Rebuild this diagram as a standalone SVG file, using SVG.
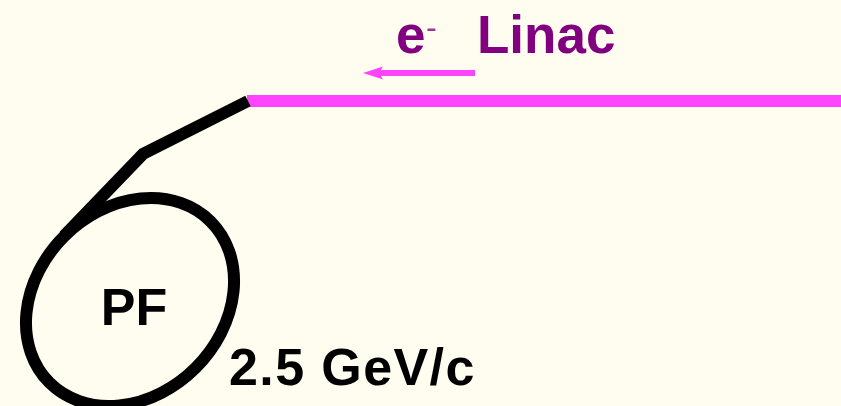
<svg xmlns="http://www.w3.org/2000/svg" width="841" height="406" viewBox="0 0 841 406">
<style>
.lbl{font-family:"Liberation Sans",Arial,sans-serif;font-weight:bold}
.beam{stroke:#FF44FF;fill:none}
.ring{stroke:#000;fill:none;stroke-width:12}
</style>
<rect width="841" height="406" fill="#FFFDEF"/>
<g id="connectors">
<line class="beam" x1="247" y1="101" x2="841" y2="101" stroke-width="12"/>
<polyline class="ring" points="248,101 143,154 64,236" stroke-width="11" stroke-linejoin="miter"/>
<g id="arrow">
<line class="beam" x1="475" y1="73" x2="378" y2="73" stroke-width="6"/>
<path d="M363,73 L383,66.5 L379,73 L383,79.5 Z" fill="#FF44FF"/>
</g>
</g>
<g id="linac">
<text class="lbl" x="396" y="53" font-size="53" fill="#800080">e</text>
<text x="426" y="37.5" font-family="Liberation Sans,Arial,sans-serif" font-size="32" fill="#993399">-</text>
<text class="lbl" x="477" y="53" font-size="53" fill="#800080">Linac</text>
</g>
<g id="pf">
<ellipse class="ring" cx="130" cy="302" rx="114" ry="93" transform="rotate(-45 130 302)"/>
<text class="lbl" x="134" y="325" font-size="52" text-anchor="middle" fill="#000">PF</text>
</g>
<g id="energy">
<text class="lbl" x="229" y="385" font-size="52" letter-spacing="1.4" fill="#000">2.5 GeV/c</text>
</g>
</svg>
